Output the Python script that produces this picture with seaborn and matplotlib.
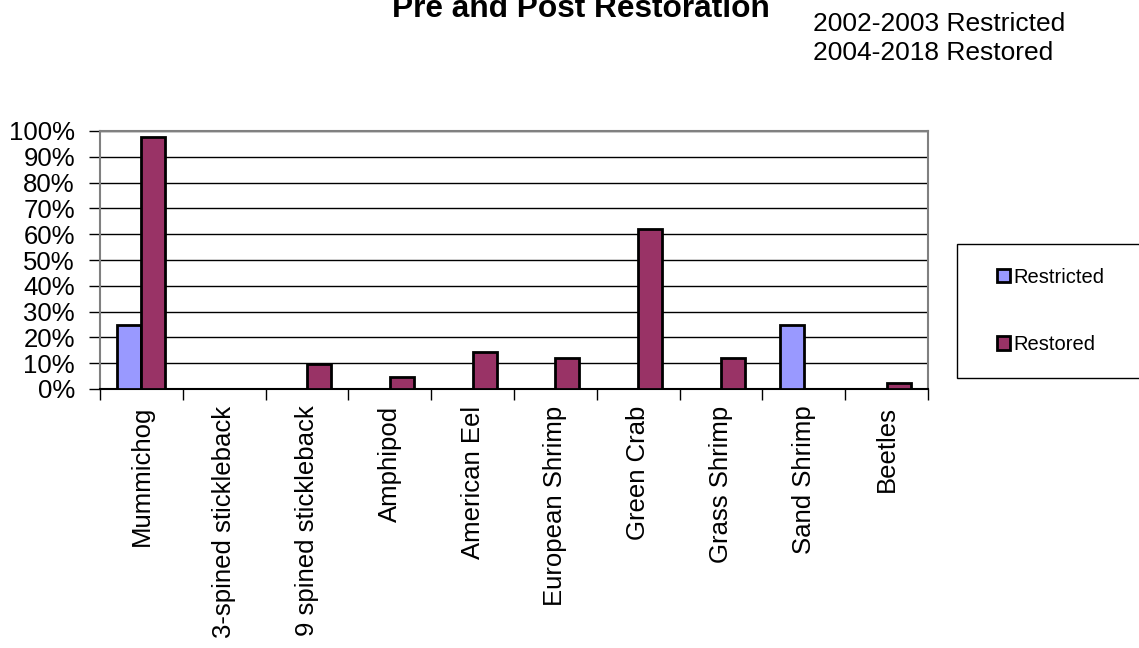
import pandas as pd
import matplotlib.pyplot as plt
import matplotlib.ticker as mtick
from matplotlib.patches import Rectangle
import seaborn as sns

# Data (share of catch, %)
species = ['Mummichog', '3-spined stickleback', '9 spined stickleback', 'Amphipod',
           'American Eel', 'European Shrimp', 'Green Crab', 'Grass Shrimp',
           'Sand Shrimp', 'Beetles']
restricted = [25.0, 0, 0, 0, 0, 0, 0, 0, 25.0, 0]
restored = [97.6, 0, 9.5, 4.8, 14.3, 11.9, 61.9, 11.9, 0, 2.4]
periods = ['Restricted', 'Restored']
colors = ['#9999FF', '#993366']

df = pd.DataFrame({
    'Species': species * 2,
    'Period': ['Restricted'] * len(species) + ['Restored'] * len(species),
    'Value': [v / 100 for v in restricted + restored],
})

sns.set_theme(style='white')
plt.rcParams['font.family'] = ['Liberation Sans', 'DejaVu Sans']
plt.rcParams['text.color'] = 'black'
plt.rcParams['xtick.color'] = 'black'
plt.rcParams['ytick.color'] = 'black'
plt.rcParams['axes.labelcolor'] = 'black'

fig = plt.figure(figsize=(11.39, 6.48), dpi=100)
ax = fig.add_axes([100 / 1139, 1 - 389 / 648, 828 / 1139, 258 / 648])

sns.barplot(data=df, x='Species', y='Value', hue='Period', order=species,
            hue_order=periods, palette=colors, width=0.58, edgecolor='black',
            linewidth=2, saturation=1, ax=ax, legend=False, zorder=3)

ax.set_xlim(-0.5, len(species) - 0.5)
ax.set_ylim(0, 1)
ax.yaxis.set_major_locator(mtick.MultipleLocator(0.1))
ax.yaxis.set_major_formatter(mtick.PercentFormatter(1.0, decimals=0))
ax.yaxis.grid(True, color='black', linewidth=1)
ax.set_axisbelow(True)

# category boundary ticks on x
ax.set_xticks([i + 0.5 for i in range(-1, len(species))], minor=False)
ax.set_xticklabels([])
ax.set_xticks(range(len(species)), minor=True)
ax.set_xticklabels(species, minor=True, rotation=90, fontsize=18.5)
ax.tick_params(axis='x', which='major', direction='out', length=8, width=1,
               color='black', bottom=True)
ax.tick_params(axis='x', which='minor', length=0, pad=12)
ax.tick_params(axis='y', direction='out', length=8, width=1, color='black',
               left=True, labelsize=18.5, pad=10)
ax.set_xlabel('')
ax.set_ylabel('')

for side in ['left', 'right', 'top']:
    ax.spines[side].set_color('#808080')
    ax.spines[side].set_linewidth(1.5)
ax.spines['bottom'].set_color('black')
ax.spines['bottom'].set_linewidth(1.5)

# titles
fig.text(581 / 1139, 1 - 17 / 648, 'Pre and Post Restoration', ha='center',
         va='baseline', fontsize=22.8, fontweight='bold')
fig.text(813 / 1139, 1 - 31 / 648, '2002-2003 Restricted', ha='left',
         va='baseline', fontsize=19)
fig.text(813 / 1139, 1 - 60 / 648, '2004-2018 Restored', ha='left',
         va='baseline', fontsize=19)

# legend box
fig.patches.append(Rectangle((957 / 1139, 1 - 378 / 648), 200 / 1139, 134 / 648,
                             transform=fig.transFigure, facecolor='white',
                             edgecolor='black', linewidth=1))
handles = [Rectangle((0, 0), 1, 1, facecolor=c, edgecolor='black', linewidth=2)
           for c in colors]
fig.legend(handles, periods, loc='center left',
           bbox_to_anchor=(987 / 1139, 1 - 311 / 648), frameon=False,
           fontsize=14.5, handlelength=0.65, handleheight=0.65,
           handletextpad=0.15, labelspacing=2.4, borderpad=0)

fig.savefig('out.png', dpi=100)
